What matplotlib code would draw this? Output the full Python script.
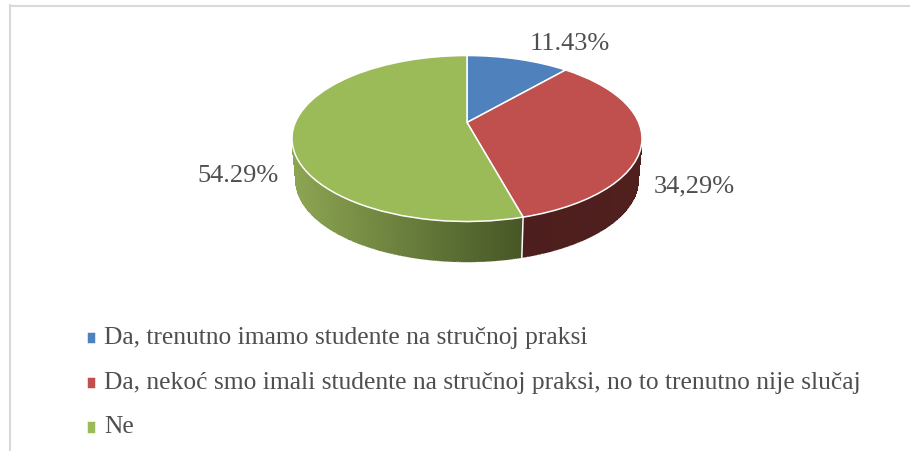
import numpy as np
import matplotlib
matplotlib.use('Agg')
import matplotlib.pyplot as plt
from matplotlib.collections import LineCollection
from matplotlib.legend_handler import HandlerPatch
from matplotlib.patches import Rectangle, Wedge
from matplotlib.transforms import Transform

plt.rcParams['font.family'] = ['Liberation Serif', 'DejaVu Serif']

categories = ['Da, trenutno imamo studente na stručnoj praksi',
              'Da, nekoć smo imali studente na stručnoj praksi, no to trenutno nije slučaj',
              'Ne']
values = [11.43, 34.29, 54.29]
value_labels = ['11.43%', '34,29%', '54.29%']

colors = ['#4f81bd', '#c0504d', '#9bbb59']
label_pos = [(570, 44.5), (694, 186.5), (238, 176.5)]
text_col = '#4f4f4f'

# perspective of the tilted disc, result in pixels
cx, cy = 467, 123.5
a, b, k = 171.7, 79.9, 0.193
scale_low, drop_low = 0.977, 42.3


def project(x, y, low=False):
    w = 1 + k*y
    s, d = (scale_low, drop_low) if low else (1, 0)
    return cx + s*a*x/w, cy + d - s*b*y/w


class Tilt(Transform):
    input_dims = 2
    output_dims = 2
    is_affine = False
    has_inverse = False

    def transform_non_affine(self, values):
        values = np.asarray(values)
        X, Y = project(values[:, 0], values[:, 1])
        return np.column_stack([X, Y])


def wall(t0, t1, c_left, c_right):
    # t in degrees clockwise from the top of the pie
    t = np.radians(np.linspace(t0, t1, 160))
    x, y = np.sin(t), np.cos(t)
    Xt, Yt = project(x, y)
    Xb, Yb = project(x, y, low=True)
    X = np.vstack([Xt, Xb])
    Y = np.vstack([Yt, Yb])
    f = (0.5*(Xt[:-1] + Xt[1:]) - Xt.min())/(Xt.max() - Xt.min())
    C = np.array([np.interp(f, [0, 1], [c_left[i], c_right[i]]) for i in range(3)]).T/255
    ax.pcolormesh(X, Y, C[np.newaxis, :, :], shading='flat', zorder=1)
    # mesh is not antialiased, a thin line hides the jagged bottom edge
    pts = np.column_stack([Xb, Yb])
    segs = np.stack([pts[:-1], pts[1:]], axis=1)
    ax.add_collection(LineCollection(segs, colors=C, linewidths=1.0, zorder=1))


def square_handle(legend, orig_handle, xdescent, ydescent, width, height, fontsize):
    # legend squares sit a bit lower than matplotlib puts them
    return Rectangle((-xdescent, -ydescent - 3), width, height)


fig = plt.figure(figsize=(9.10, 4.52), dpi=100)
ax = fig.add_axes([0, 0, 1, 1])

wedges, _ = ax.pie(values, colors=colors, startangle=90, counterclock=False,
                   wedgeprops={'edgecolor': 'white', 'linewidth': 1.1, 'zorder': 3})
for w in wedges:
    w.set_transform(Tilt() + ax.transData)

ax.set_aspect('auto')
ax.set_xlim(0, 910)
ax.set_ylim(452, 0)

# side of the pie
seam = 360*(values[0] + values[1])/sum(values)
wall(seam, 262, (140, 165, 82), (70, 86, 38))
wall(98, seam, (76, 30, 29), (80, 32, 30))
Xs, Ys = project(np.sin(np.radians(seam)), np.cos(np.radians(seam)))
Xl, Yl = project(np.sin(np.radians(seam)), np.cos(np.radians(seam)), low=True)
ax.plot([Xs, Xl], [Ys, Yl], color='white', lw=1.1, zorder=2)

for txt, pos in zip(value_labels, label_pos):
    ax.text(pos[0], pos[1], txt, fontsize=19, color=text_col, ha='center', va='center')

leg = ax.legend(wedges, categories, loc='upper left', bbox_to_anchor=(87, 327),
                bbox_transform=ax.transData, frameon=False, fontsize=18.4,
                labelcolor=text_col, handlelength=0.36, handleheight=0.36,
                handletextpad=0.31, labelspacing=0.89, borderpad=0, borderaxespad=0,
                handler_map={Wedge: HandlerPatch(patch_func=square_handle)})

# chart border, only top and left are in the crop
ax.plot([10, 910], [6.5, 6.5], color='#d9d9d9', lw=1.5, zorder=0)
ax.plot([9.5, 9.5], [6, 452], color='#d9d9d9', lw=1.5, zorder=0)

fig.savefig('out.png', dpi=100)
